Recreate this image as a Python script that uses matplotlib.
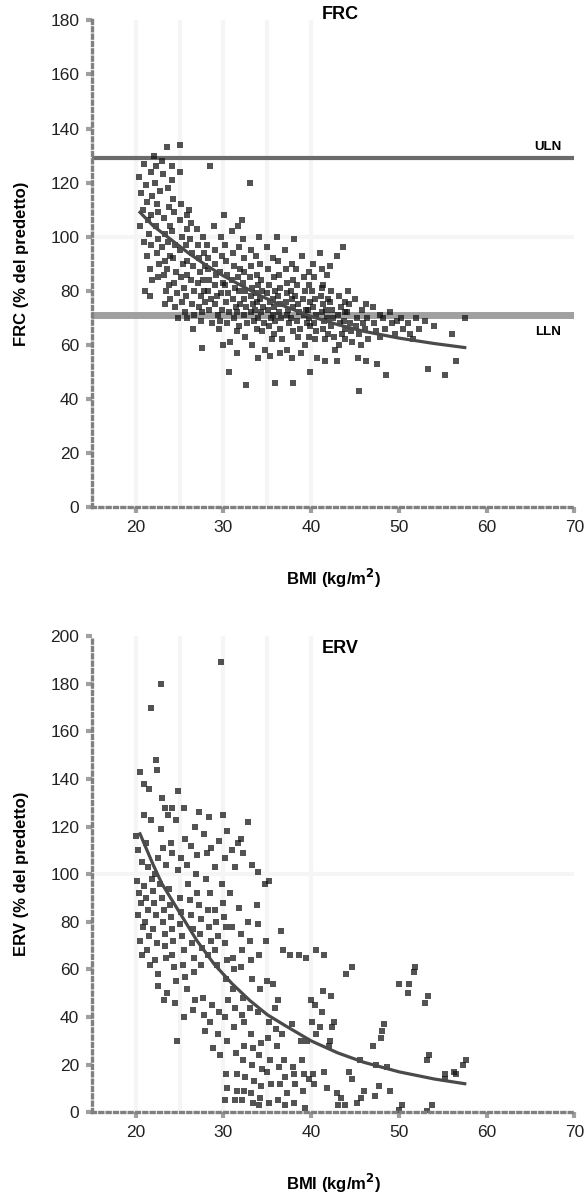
import matplotlib.pyplot as plt
import numpy as np

# 字体配置
plt.rcParams['font.family'] = ['Liberation Sans', 'DejaVu Sans']

# ---- FRC data (BMI, % predetto) ----
frc_points = [
    (20.4,122),(20.6,116),(20.8,110),(20.5,104),(20.9,98),(21.0,127),(21.2,119),(21.3,113),(21.4,106),(21.5,101),
    (21.3,93),(21.6,88),(21.1,80),(21.8,124),(21.9,115),(21.7,108),(21.8,97),(21.9,84),(21.6,78),
    (22.1,130),(22.3,126),(22.2,120),(22.4,112),(22.5,109),(22.3,104),(22.6,99),(22.4,94),(22.7,90),(22.5,85),
    (22.8,117),(23.0,128),(23.1,123),(23.2,107),(23.3,101),(23.0,96),(23.4,91),(23.2,86),(23.5,80),(23.3,75),
    (23.6,133),(23.7,118),(23.8,111),(23.9,104),(23.7,98),(23.9,93),(23.6,88),(23.8,82),(23.9,77),
    (24.1,126),(24.2,121),(24.3,114),(24.4,109),(24.2,102),(24.5,97),(24.3,92),(24.6,87),(24.4,83),(24.7,79),
    (24.5,74),(24.8,70),(25.0,134),(25.1,124),(25.2,112),(25.0,106),(25.3,100),(25.1,95),(25.4,90),(25.2,85),
    (25.5,81),(25.3,76),(25.6,72),(25.8,108),(25.9,103),(25.7,97),(25.8,91),(25.9,86),(25.7,78),(25.8,70),
    (26.1,110),(26.3,105),(26.2,99),(26.4,94),(26.5,89),(26.3,84),(26.6,80),(26.4,75),(26.7,71),(26.5,66),
    (27.0,103),(27.1,97),(27.2,92),(27.3,87),(27.1,83),(27.4,78),(27.2,74),(27.5,69),(27.6,59),(27.7,100),
    (27.8,94),(27.9,89),(27.7,84),(27.8,80),(27.9,76),(27.6,72),
    (28.1,97),(28.2,92),(28.3,88),(28.4,84),(28.5,126),(28.3,80),(28.6,77),(28.4,73),(28.7,68),(28.9,104),
    (29.0,95),(29.1,90),(29.2,86),(29.0,82),(29.3,78),(29.1,75),(29.4,71),(29.5,66),(29.7,100),(29.8,93),
    (29.6,87),(29.9,83),(29.7,79),(29.8,73),(29.9,60),(29.6,69),
    (30.1,108),(30.2,97),(30.3,91),(30.4,86),(30.2,82),(30.5,79),(30.3,76),(30.6,72),(30.4,68),(30.7,61),
    (30.6,50),(31.0,102),(31.1,94),(31.2,89),(31.0,84),(31.3,81),(31.1,77),(31.4,74),(31.2,70),(31.5,65),
    (31.6,57),(31.7,104),(31.8,96),(31.9,88),(31.7,85),(31.8,80),(31.9,75),(31.6,72),(31.8,67),
    (32.1,106),(32.2,99),(32.3,92),(32.4,87),(32.2,83),(32.5,80),(32.3,77),(32.6,74),(32.4,71),(32.7,68),
    (32.5,63),(32.6,45),(33.0,120),(33.1,95),(33.2,89),(33.0,85),(33.3,81),(33.1,78),(33.4,75),(33.2,72),
    (33.5,69),(33.3,60),(33.7,93),(33.8,86),(33.9,82),(33.7,79),(33.8,76),(33.6,73),(33.9,70),(33.8,66),(33.9,55),
    (34.1,100),(34.2,90),(34.3,84),(34.4,80),(34.2,77),(34.5,74),(34.3,72),(34.6,68),(34.4,65),(34.7,58),
    (35.0,96),(35.1,88),(35.2,82),(35.0,79),(35.3,76),(35.1,73),(35.4,70),(35.2,67),(35.5,62),(35.3,56),
    (35.7,92),(35.8,85),(35.9,80),(35.7,77),(35.8,74),(35.6,71),(35.9,69),(35.8,64),(35.9,46),
    (36.1,100),(36.2,91),(36.3,86),(36.4,81),(36.2,78),(36.5,75),(36.3,72),(36.6,70),(36.4,66),(36.7,62),
    (36.5,57),(37.0,95),(37.1,88),(37.2,83),(37.3,79),(37.1,76),(37.4,73),(37.2,71),(37.5,68),(37.3,58),
    (37.8,90),(37.9,84),(37.7,80),(37.8,77),(37.9,74),(37.7,70),(37.9,65),(37.8,55),(37.9,46),
    (38.1,99),(38.3,88),(38.4,82),(38.2,78),(38.5,75),(38.6,72),(38.4,69),(38.7,66),(38.5,63),(38.8,57),
    (39.0,93),(39.2,85),(39.3,80),(39.1,77),(39.4,73),(39.2,71),(39.5,68),(39.3,60),(39.7,87),(39.8,82),
    (39.9,76),(39.6,73),(39.8,70),(39.9,67),(39.7,63),(39.9,50),
    (40.2,90),(40.3,85),(40.1,80),(40.4,77),(40.2,74),(40.5,71),(40.3,68),(40.6,65),(40.4,62),(40.7,55),
    (41.0,94),(41.2,88),(41.3,82),(41.1,78),(41.4,75),(41.2,72),(41.5,69),(41.3,66),(41.6,62),(41.2,81),
    (41.8,86),(41.9,77),(41.7,73),(41.8,70),(41.9,64),(41.6,54),
    (42.2,89),(42.3,80),(42.1,76),(42.4,73),(42.5,70),(42.3,67),(42.6,63),(42.7,58),(43.0,93),(43.2,78),
    (43.4,74),(43.1,71),(43.3,68),(43.5,64),(43.2,60),(43.0,54),(43.6,96),(43.8,76),(43.9,72),(43.7,69),
    (43.8,66),(43.9,62),
    (44.2,80),(44.3,75),(44.1,72),(44.4,68),(44.5,65),(44.6,61),(45.0,77),(45.2,70),(45.1,67),(45.4,64),
    (45.3,55),(45.4,43),(45.8,73),(45.9,68),(45.7,60),
    (46.2,75),(46.4,70),(46.1,66),(46.5,62),(46.3,54),(47.0,74),(47.2,68),(47.4,65),(47.5,53),(47.8,71),(47.9,63),
    (48.2,70),(48.4,66),(48.5,49),(49.0,72),(49.2,68),(49.6,64),(49.8,69),
    (50.2,70),(50.5,66),(51.0,68),(51.3,64),(51.6,62),(52.0,70),(52.3,66),(53.0,69),(53.3,51),(54.0,67),
    (55.2,49),(56.0,64),(56.5,54),(57.5,70),
]
frc_bmi, frc_pct = map(np.array, zip(*frc_points))

# fitted curve
frc_fit_bmi = [20.5, 22, 24, 26, 28, 30, 32, 34, 36, 38, 40, 43, 46, 50, 54, 57.5]
frc_fit_pct = [109, 104, 99, 94, 89.5, 85.5, 82, 78.5, 75.5, 73, 70.5, 67.5, 65, 62.5, 60.5, 59]
frc_uln = 129
frc_lln = 71

# ---- ERV data ----
erv_points = [
    (29.7,189),(22.9,180),(21.8,170),(22.3,148),(20.5,143),(22.4,144),(21.0,138),(21.5,136),(24.8,135),(24.2,128),
    (23.3,128),(23.7,125),(24.6,123),(21.7,123),(27.2,126),(28.4,124),(32.8,122),(30.4,118),(22.9,119),(20.1,116),
    (25.6,115),(29.5,114),(31.7,113),(28.1,109),(23.1,111),(24.2,109),(29.0,103),(24.8,102),(22.2,100),(26.9,100),
    (20.3,110),(20.7,105),(21.2,113),(21.4,103),(22.6,107),(23.5,104),(24.0,113),(25.2,107),(25.8,104),(26.3,112),
    (27.0,108),(27.8,117),(28.6,111),(30.2,107),(31.0,110),(31.3,103),(32.2,109),(33.3,104),(34.0,101),(35.2,97),
    (20.9,125),(23.0,132),(25.5,128),(26.8,120),(30.0,125),(32.0,115),
    (20.2,97),(20.4,92),(20.6,88),(20.3,83),(20.8,78),(20.5,72),(20.7,66),(21.0,95),(21.2,90),(21.4,85),
    (21.1,80),(21.5,74),(21.3,68),(21.6,62),(21.9,98),(22.0,93),(22.1,88),(22.3,83),(22.0,77),(22.4,71),
    (22.2,64),(22.5,58),(22.6,53),(22.8,96),(23.0,90),(23.2,85),(23.1,80),(23.4,75),(23.3,70),(23.5,65),
    (23.2,47),(23.6,50),(23.8,94),(23.9,87),(24.0,82),(24.1,77),(24.3,72),(24.2,66),(24.4,61),(24.6,55),
    (24.5,46),(24.7,30),(25.0,90),(25.2,84),(25.1,79),(25.3,74),(25.5,68),(25.4,62),(25.6,57),(25.8,52),(25.5,40),
    (26.0,96),(26.2,89),(26.3,83),(26.5,77),(26.4,71),(26.6,65),(26.7,59),(26.8,47),(26.5,43),(27.0,92),
    (27.2,87),(27.4,81),(27.3,75),(27.6,69),(27.5,62),(27.7,48),(27.8,41),(27.9,34),(28.0,98),(28.2,85),
    (28.5,92),(28.4,78),(28.6,72),(28.3,66),(28.7,45),(28.5,38),(28.8,27),(29.0,85),(29.2,80),(29.4,74),
    (29.1,68),(29.3,62),(29.5,42),(29.4,33),(29.6,24),(29.8,96),(29.9,88),
    (30.1,82),(30.3,78),(30.2,71),(30.4,64),(30.3,56),(30.5,47),(30.2,40),(30.4,30),(30.3,16),(30.4,10),
    (30.2,5),(30.8,92),(31.0,78),(31.1,65),(31.2,60),(31.1,52),(31.3,44),(31.2,36),(31.4,25),(31.5,16),
    (31.6,9),(31.3,5),(31.8,86),(32.0,75),(32.1,68),(32.0,61),(32.2,48),(32.1,41),(32.3,38),(32.4,28),
    (32.2,22),(32.5,15),(32.4,9),(32.1,5),(32.8,80),(33.0,72),(33.1,64),(33.3,56),(33.0,44),(33.2,33),
    (33.4,27),(33.3,20),(33.5,13),(33.2,8),(33.4,4),(33.8,87),(34.0,79),(34.1,66),(34.2,52),(34.0,42),
    (34.3,29),(34.1,24),(34.4,18),(34.3,11),(34.2,6),(34.1,3),(34.7,96),(34.9,72),(35.0,55),(35.2,38),
    (35.1,31),(35.3,22),(35.0,17),(35.4,12),(35.2,4),
    (35.7,54),(35.9,44),(36.0,35),(36.2,47),(36.1,28),(36.3,19),(36.4,12),(36.2,5),(36.6,76),(36.8,68),
    (36.7,33),(36.9,22),(37.0,15),(37.2,8),(37.0,3),(37.6,66),(37.8,37),(37.9,19),(38.0,16),(38.2,12),
    (38.1,4),(38.6,66),(38.8,30),(39.0,22),(39.2,16),(39.1,9),(39.3,2),(39.4,65),(39.5,30),(39.8,14),
    (40.0,47),(40.1,38),(40.2,16),(40.3,12),(40.5,33),(40.4,45),(40.6,68),
    (41.0,36),(41.2,42),(41.4,51),(41.5,66),(41.5,17),(41.8,10),(42.0,28),(42.2,30),(42.3,49),(42.4,36),
    (42.6,38),(43.0,8),(43.1,3),(43.4,6),(43.9,3),(44.0,58),(44.3,17),(44.6,61),(44.7,14),(45.2,4),
    (45.6,22),(45.7,6),
    (46.0,9),(47.0,28),(47.3,7),(47.4,20),(47.7,11),(48.0,31),(48.1,34),(48.3,37),(48.6,19),(49.0,9),
    (50.0,54),(50.0,1),(50.3,3),(51.0,50),(51.2,54),(51.7,59),(51.8,61),(53.0,46),(53.2,22),(53.2,0.5),
    (53.3,49),(53.4,24),(53.8,3),(55.2,14),(55.3,16),(56.3,17),(56.5,16),(57.3,20),(57.6,22),
]
erv_bmi, erv_pct = map(np.array, zip(*erv_points))

erv_fit_bmi = [20.5, 22, 23, 25, 27, 29, 31, 33, 35, 37, 40, 43, 46, 50, 54, 57.5]
erv_fit_pct = [117, 104, 96, 84, 72, 62, 54, 47, 41, 36.5, 30, 25, 21, 17, 14, 12]

# 创建图形
fig = plt.figure(figsize=(5.88, 11.96), dpi=100)
ax1 = fig.add_axes([0.156, 0.576, 0.821, 0.407])
ax2 = fig.add_axes([0.156, 0.070, 0.821, 0.398])


def style_axis(ax, ymax, ystep):
    ax.set_xlim(15, 70)
    ax.set_ylim(0, ymax)
    ax.set_xticks(range(20, 71, 10))
    ax.set_yticks(range(0, ymax + 1, ystep))
    for s in ['top', 'right']:
        ax.spines[s].set_visible(False)
    for s in ['left', 'bottom']:
        ax.spines[s].set_color('#808080')
        ax.spines[s].set_linewidth(2.4)
        ax.spines[s].set_linestyle((0, (0.9, 1.3)))
    ax.tick_params(length=4, width=3, color='#a0a0a0', labelsize=12.5, labelcolor='#222222', pad=5)
    ax.set_xlabel('BMI (kg/m$^{\\mathbf{2}}$)', fontsize=12, fontweight='bold', labelpad=23)
    # 背景的浅色线
    for xv in [20, 25, 30, 35, 40]:
        ax.axvline(xv, color='#f5f5f5', lw=3, zorder=0)
    ax.axhline(100, color='#f5f5f5', lw=3, zorder=0)


style_axis(ax1, 180, 20)
style_axis(ax2, 200, 20)

# FRC
ax1.axhline(frc_uln, color='#6a6a6a', lw=3, zorder=1)
ax1.axhline(frc_lln, color='#a0a0a0', lw=5, zorder=1)
ax1.scatter(frc_bmi, frc_pct, marker='s', s=14, color='#111111', alpha=0.72, linewidths=0, zorder=2)
ax1.plot(frc_fit_bmi, frc_fit_pct, color='#4a4a4a', lw=2.3, zorder=3)
ax1.text(68.5, frc_uln + 1.8, 'ULN', fontsize=9.5, fontweight='bold', ha='right', va='bottom')
ax1.text(68.5, frc_lln - 4, 'LLN', fontsize=9.5, fontweight='bold', ha='right', va='top')
ax1.text(41.2, 182, 'FRC', fontsize=13, fontweight='bold', ha='left', va='center', clip_on=False)
ax1.set_ylabel('FRC (% del predetto)', fontsize=12, fontweight='bold', labelpad=15)

# ERV
ax2.scatter(erv_bmi, erv_pct, marker='s', s=14, color='#111111', alpha=0.72, linewidths=0, zorder=2)
ax2.plot(erv_fit_bmi, erv_fit_pct, color='#4a4a4a', lw=2.3, zorder=3)
ax2.text(41.2, 195, 'ERV', fontsize=13, fontweight='bold', ha='left', va='center')
ax2.set_ylabel('ERV (% del predetto)', fontsize=12, fontweight='bold', labelpad=15)

plt.savefig('out.png', dpi=100)
